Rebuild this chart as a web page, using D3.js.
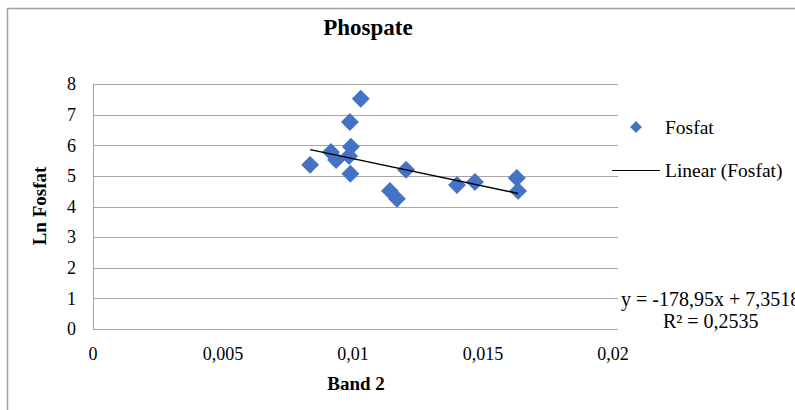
<!DOCTYPE html>
<html><head><meta charset="utf-8">
<script src="https://cdn.jsdelivr.net/npm/d3@7"></script>
<style>
html,body{margin:0;padding:0;background:#fff;overflow:hidden}
text{font-family:"Liberation Serif","Times New Roman",serif;fill:#000}
</style></head><body>
<svg id="c" width="795" height="410"></svg>
<script>
const bandX = [0.00835,0.00915,0.00935,0.00988,0.00992,0.00985,0.0099,0.0103,0.01142,0.01169,0.01204,0.0140,0.01469,0.0163,0.01635];
const lnFosfat = [5.36,5.78,5.52,6.76,5.95,5.65,5.07,7.52,4.51,4.25,5.2,4.7,4.8,4.93,4.51];
const xTicks = [0,0.005,0.01,0.015,0.02];
const xTickLabels = ["0","0,005","0,01","0,015","0,02"];
const yTicks = [0,1,2,3,4,5,6,7,8];
const slope = -178.95, intercept = 7.3518;
const eqText = "y = -178,95x + 7,3518";
const r2Text = "R² = 0,2535";

const svg = d3.select("#c");
const x = d3.scaleLinear().domain([0,0.02]).range([93,613]);
const y = d3.scaleLinear().domain([0,8]).range([329,84]);

// outer border
svg.append("rect").attr("x",7.5).attr("y",8.5).attr("width",800).attr("height",420)
  .attr("fill","none").attr("stroke","#a0a0a0").attr("stroke-width",1.5);

// gridlines
svg.append("g").selectAll("line").data(yTicks.filter(d=>d>0)).join("line")
  .attr("x1",x(0)).attr("x2",x(0.02)+5).attr("y1",d=>Math.round(y(d))+0.5).attr("y2",d=>Math.round(y(d))+0.5)
  .attr("stroke","#a6a6a6").attr("stroke-width",1);

// axes lines
svg.append("line").attr("x1",x(0)+0.5).attr("x2",x(0)+0.5).attr("y1",y(8)).attr("y2",y(0))
  .attr("stroke","#a6a6a6");
svg.append("line").attr("x1",x(0)).attr("x2",x(0.02)+5).attr("y1",Math.round(y(0))+0.5).attr("y2",Math.round(y(0))+0.5)
  .attr("stroke","#a6a6a6");

// y tick labels
svg.append("g").selectAll("text").data(yTicks).join("text")
  .attr("x",76).attr("y",d=>y(d)).attr("dy","0.35em").attr("text-anchor","end")
  .attr("font-size",18).text(d=>d);
// x tick labels
svg.append("g").selectAll("text").data(xTicks).join("text")
  .attr("x",d=>x(d)).attr("y",360).attr("text-anchor","middle")
  .attr("font-size",18).text((d,i)=>xTickLabels[i]);

// points
const sym = d3.symbol().type(d3.symbolSquare).size(160);
svg.append("g").selectAll("path").data(bandX.map((v,i)=>[v,lnFosfat[i]])).join("path")
  .attr("d",sym).attr("fill","#4472C4")
  .attr("transform",d=>`translate(${x(d[0])},${y(d[1])}) rotate(45)`);

// trendline
const xmin = d3.min(bandX), xmax = d3.max(bandX);
svg.append("line").attr("x1",x(xmin)).attr("y1",y(slope*xmin+intercept))
  .attr("x2",x(xmax)).attr("y2",y(slope*xmax+intercept))
  .attr("stroke","#000").attr("stroke-width",1.4);

// title
svg.append("text").attr("x",368).attr("y",35).attr("text-anchor","middle")
  .attr("font-size",23).attr("font-weight","bold").text("Phospate");
// axis titles
svg.append("text").attr("x",356).attr("y",390).attr("text-anchor","middle")
  .attr("font-size",19).attr("font-weight","bold").text("Band 2");
svg.append("text").attr("transform","translate(46,206) rotate(-90)").attr("text-anchor","middle")
  .attr("font-size",19).attr("font-weight","bold").text("Ln Fosfat");

// legend
svg.append("path").attr("d",d3.symbol().type(d3.symbolSquare).size(70)())
  .attr("fill","#4472C4").attr("transform","translate(636,127) rotate(45)");
svg.append("text").attr("x",665).attr("y",127).attr("dy","0.35em").attr("font-size",19.5).text("Fosfat");
svg.append("line").attr("x1",612).attr("x2",660).attr("y1",170.5).attr("y2",170.5).attr("stroke","#000").attr("stroke-width",1.2);
svg.append("text").attr("x",665).attr("y",170).attr("dy","0.35em").attr("font-size",19.5).text("Linear (Fosfat)");

// equation
svg.append("text").attr("x",621).attr("y",306).attr("font-size",20).text(eqText);
svg.append("text").attr("x",663).attr("y",328).attr("font-size",20).text(r2Text);
</script>
</body></html>
